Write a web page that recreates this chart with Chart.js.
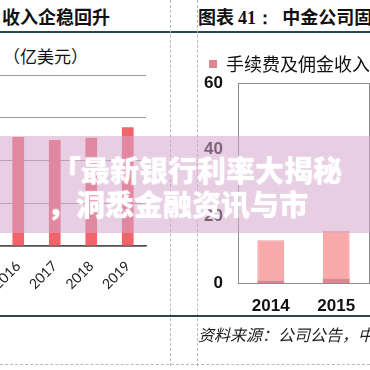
<!DOCTYPE html>
<html>
<head>
<meta charset="utf-8">
<script src="https://cdn.jsdelivr.net/npm/chart.js@4.4.1/dist/chart.umd.min.js"></script>
<style>
html, body { margin: 0; padding: 0; }
body { width: 370px; height: 370px; overflow: hidden; position: relative; background: #fff;
       font-family: "Noto Sans CJK SC", sans-serif; color: #111; }
.abs { position: absolute; white-space: nowrap; }
.rule { position: absolute; left: 0; width: 370px; height: 2px; background: #28474f; }
.vdash { position: absolute; top: 0; height: 366px; width: 0; border-left: 1px dashed #b9b9b9; }
#banner { position: absolute; left: 0; top: 136px; width: 370px; height: 97px;
          background: rgba(212, 166, 204, 0.55); z-index: 5; }
#banner div { position: absolute; color: #fff; font-weight: 900; font-size: 29px; white-space: nowrap;
              text-shadow: 0 0 2px rgba(255,255,255,0.6); }
</style>
</head>
<body>

<div class="abs" style="left:2px;top:3px;font-size:18px;font-weight:bold;">收入企稳回升</div>
<div class="abs" style="left:198px;top:3px;font-size:18px;font-weight:bold;">图表 <span style="font-family:'Liberation Serif',serif;">41：</span>&nbsp; 中金公司固</div>
<div class="rule" style="top:31px;"></div>
<div class="abs" style="left:3px;top:43px;font-size:17px;">（亿美元）</div>

<canvas id="leftChart" class="abs" width="160" height="246" style="left:0;top:60px;"></canvas>
<canvas id="rightChart" class="abs" width="182" height="291" style="left:188px;top:32px;"></canvas>

<div class="vdash" style="left:170px;"></div>
<div class="vdash" style="left:197px;"></div>
<div class="rule" style="top:315px;"></div>
<div class="abs" style="left:198px;top:322px;font-size:16px;font-style:italic;color:#222;">资料来源：公司公告，中</div>
<div class="abs" style="left:0;top:364px;width:370px;border-top:1px dashed #b9b9b9;"></div>

<div id="banner">
  <div style="left:52px;top:12px;">「最新银行利率大揭秘</div>
  <div style="left:47px;top:46px;">，洞悉金融资讯与市</div>
</div>

<script>
// left panel (亿美元)
const leftYears = ['2016', '2017', '2018', '2019'];
const leftValues = [25.5, 24.8, 25.3, 27.8];

// right panel
const rightYears = ['2014', '2015'];
const feeIncome = [0.8, 1.4];
const otherIncome = [12.0, 14.3];
const rightTicks = [0, 20, 40, 60];

new Chart(document.getElementById('leftChart').getContext('2d'), {
    type: 'bar',
    data: {
        labels: leftYears,
        datasets: [{
            data: leftValues,
            backgroundColor: '#f2636a',
            barPercentage: 0.32,
            categoryPercentage: 1
        }]
    },
    options: {
        responsive: false,
        animation: false,
        devicePixelRatio: 1,
        layout: { padding: { top: 15, right: 14, left: 0, bottom: 0 } },
        plugins: { legend: { display: false }, tooltip: { enabled: false } },
        scales: {
            x: {
                grid: { display: false },
                border: { color: '#555', width: 1.5 },
                ticks: {
                    minRotation: 45, maxRotation: 45, padding: 4,
                    color: '#222', font: { family: 'Lato', size: 14 }
                },
                afterFit: function (scale) {
                    scale.height = 60;
                    scale.paddingLeft = 0;
                    scale.paddingRight = 0;
                }
            },
            y: {
                min: 0, max: 40,
                ticks: { display: false, stepSize: 10 },
                grid: { color: '#9a9a9a', drawTicks: false },
                border: { display: false },
                afterFit: function (scale) { scale.width = 0; }
            }
        }
    }
});

const frame = {
    id: 'frame',
    beforeDatasetsDraw(chart) {
        const a = chart.chartArea;
        const c = chart.ctx;
        c.save();
        c.strokeStyle = '#8c8c8c';
        c.lineWidth = 1;
        c.strokeRect(a.left + 0.5, a.top + 0.5, a.right - a.left, a.bottom - a.top);
        c.restore();
    }
};

new Chart(document.getElementById('rightChart').getContext('2d'), {
    type: 'bar',
    data: {
        labels: rightYears,
        datasets: [{
            label: '手续费及佣金收入',
            data: feeIncome,
            backgroundColor: '#e0848d',
            barPercentage: 0.41,
            categoryPercentage: 1
        }, {
            data: otherIncome,
            backgroundColor: '#f8a9a9',
            borderColor: '#eb9a9c',
            borderWidth: 1,
            barPercentage: 0.41,
            categoryPercentage: 1
        }]
    },
    options: {
        responsive: false,
        animation: false,
        devicePixelRatio: 1,
        layout: { padding: { top: 13, right: 1, left: 11, bottom: 0 } },
        plugins: {
            tooltip: { enabled: false },
            legend: {
                position: 'top',
                align: 'start',
                labels: {
                    boxWidth: 8, boxHeight: 8, padding: 10,
                    color: '#111',
                    font: { family: 'Noto Sans CJK SC', size: 18 },
                    filter: item => item.datasetIndex === 0
                }
            }
        },
        scales: {
            x: {
                stacked: true,
                grid: { display: false },
                border: { display: false },
                ticks: { padding: 5, color: '#111', font: { family: 'Liberation Sans', size: 17, weight: 'bold' } },
                afterFit: function (scale) { scale.height = 40; }
            },
            y: {
                stacked: true,
                min: 0, max: 60,
                afterBuildTicks: function (scale) { scale.ticks = rightTicks.map(v => ({ value: v })); },
                ticks: { padding: 15, color: '#111', font: { family: 'Liberation Sans', size: 17, weight: 'bold' } },
                grid: { display: false, drawTicks: false },
                border: { display: false },
                afterFit: function (scale) { scale.width = 39; }
            }
        }
    },
    plugins: [frame]
});
</script>
</body>
</html>
